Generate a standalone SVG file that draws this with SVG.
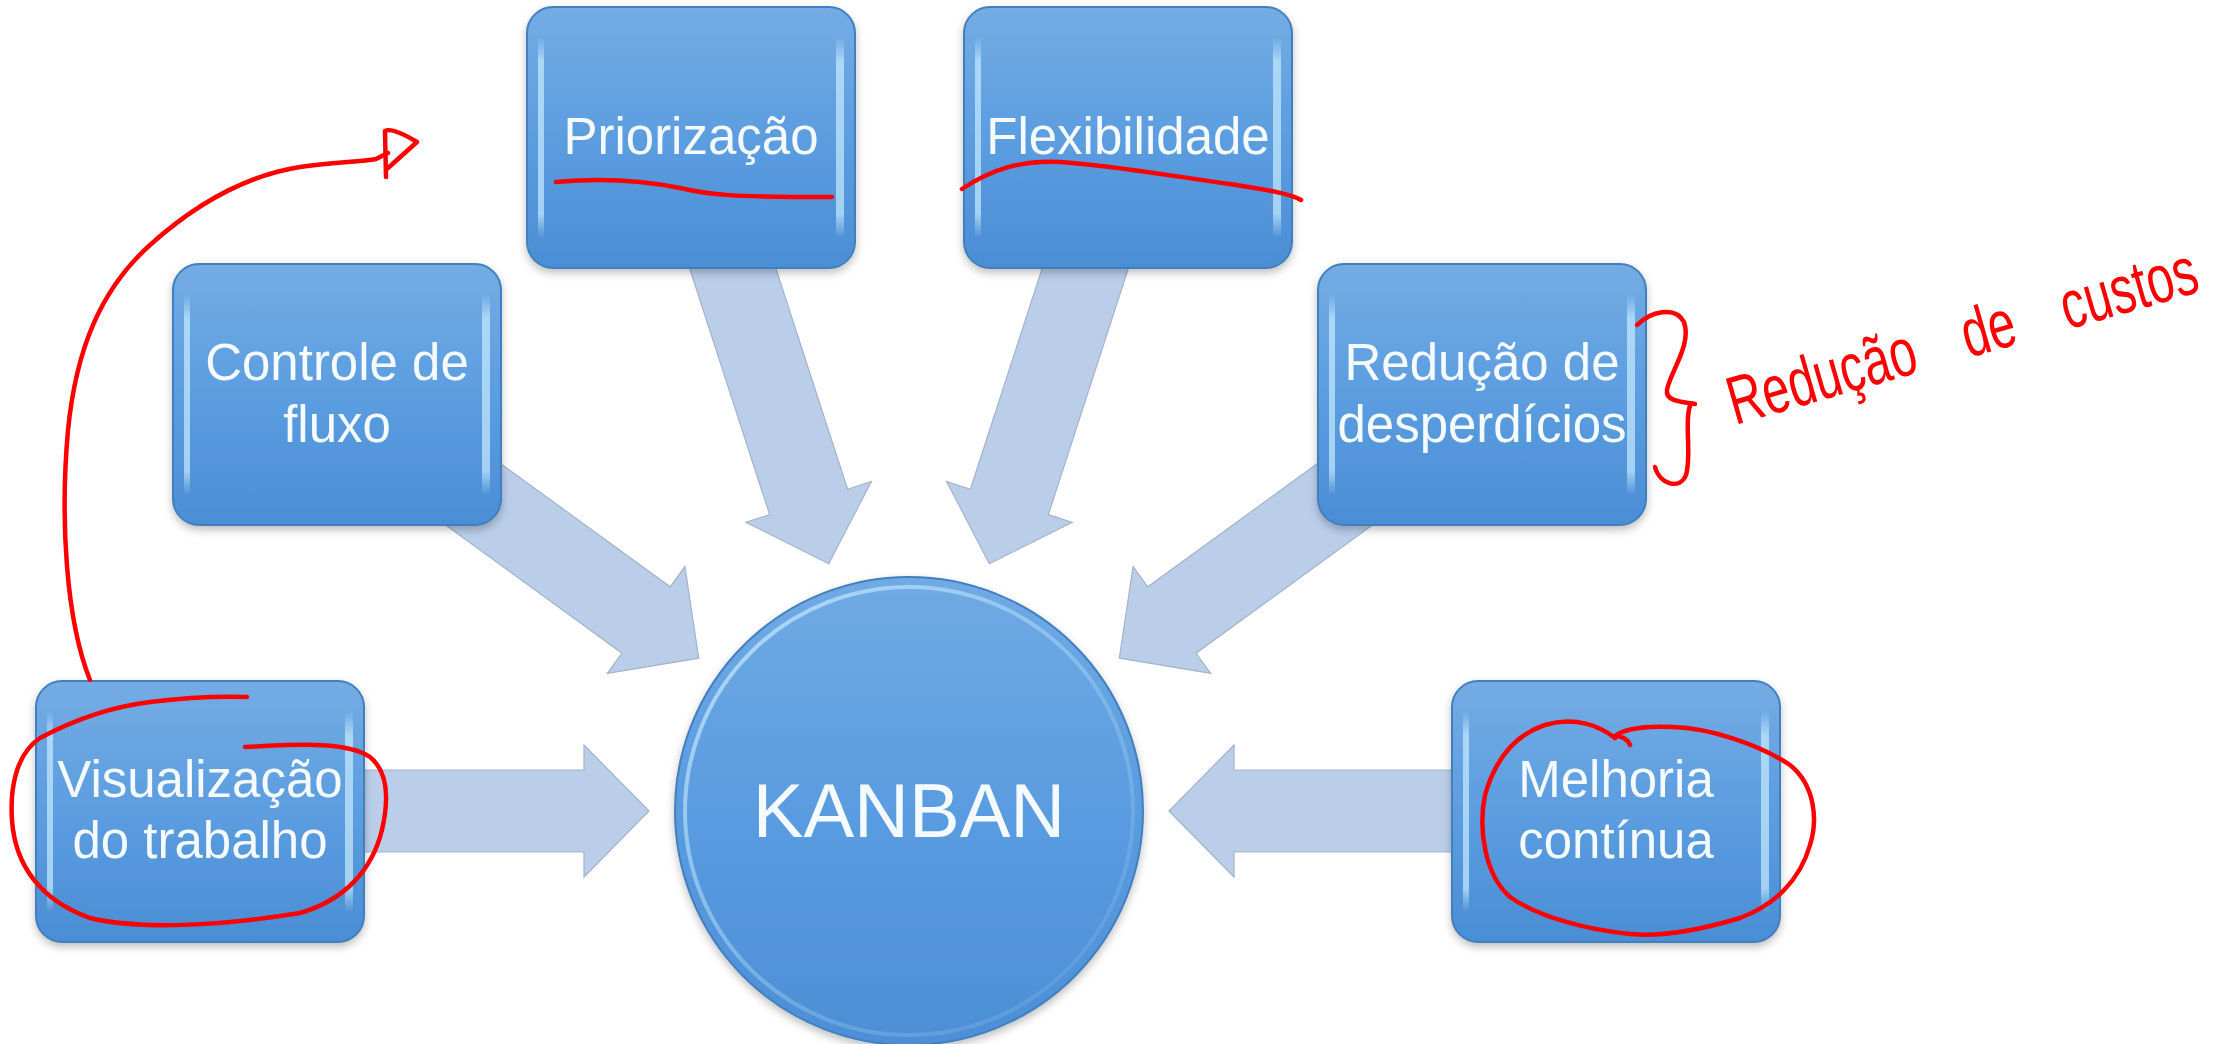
<svg xmlns="http://www.w3.org/2000/svg" xmlns:xlink="http://www.w3.org/1999/xlink" width="2225" height="1044" viewBox="0 0 2225 1044">
<style>
.lbl{font-family:"Liberation Sans",Arial,sans-serif;font-size:51px;fill:#F5FAFF;text-anchor:middle}
.big{font-family:"Liberation Sans",Arial,sans-serif;font-size:76px;fill:#F5FAFF;text-anchor:middle}
.arrow{fill:#BACEEA;stroke:#A3B3C8;stroke-width:1.2;stroke-linejoin:miter}
.ink{fill:none;stroke:#FF0000;stroke-width:4.5;stroke-linecap:round;stroke-linejoin:round}
.hand{font-family:"Liberation Sans",Arial,sans-serif;font-size:62px;fill:#FF0000;word-spacing:46px}
</style>
<defs>
<linearGradient id="boxFill" x1="0" y1="0" x2="0" y2="1">
<stop offset="0" stop-color="#74ACE4"/>
<stop offset="0.5" stop-color="#5C9DE0"/>
<stop offset="1" stop-color="#4A8ED5"/>
</linearGradient>
<linearGradient id="hl" x1="0" y1="0" x2="0" y2="1">
<stop offset="0" stop-color="#C8ECFF" stop-opacity="0"/>
<stop offset="0.12" stop-color="#C8ECFF" stop-opacity="0.7"/>
<stop offset="0.88" stop-color="#C8ECFF" stop-opacity="0.7"/>
<stop offset="1" stop-color="#C8ECFF" stop-opacity="0"/>
</linearGradient>
<linearGradient id="circFill" x1="0" y1="0" x2="0" y2="1">
<stop offset="0" stop-color="#70AAE4"/>
<stop offset="0.5" stop-color="#5A9CE0"/>
<stop offset="1" stop-color="#4C8FD6"/>
</linearGradient>
<linearGradient id="rim" x1="0" y1="0" x2="1" y2="1">
<stop offset="0" stop-color="#C8ECFF" stop-opacity="0.8"/>
<stop offset="0.6" stop-color="#C8ECFF" stop-opacity="0.25"/>
<stop offset="1" stop-color="#C8ECFF" stop-opacity="0.05"/>
</linearGradient>
<filter id="shadow" x="-10%" y="-10%" width="120%" height="130%">
<feDropShadow dx="0" dy="4" stdDeviation="4" flood-color="#000000" flood-opacity="0.25"/>
</filter>
<g id="box">
<rect width="328" height="261" rx="26" fill="url(#boxFill)" stroke="#437FBF" stroke-width="2"/>
<rect x="11" y="30" width="6" height="201" rx="3" fill="url(#hl)"/>
<rect x="309" y="30" width="8" height="201" rx="4" fill="url(#hl)"/>
</g>
<polygon id="arr" points="0,0 -65,-66 -65,-41 -340,-41 -340,41 -65,41 -65,66"/>
</defs>
<rect width="2225" height="1044" fill="#FFFFFF"/>

<g id="connectors">
<use xlink:href="#arr" href="#arr" class="arrow" transform="translate(649,811) rotate(0)"/>
<use xlink:href="#arr" href="#arr" class="arrow" transform="translate(698.7,658.2) rotate(36)"/>
<use xlink:href="#arr" href="#arr" class="arrow" transform="translate(828.7,563.7) rotate(72)"/>
<use xlink:href="#arr" href="#arr" class="arrow" transform="translate(989.3,563.7) rotate(108)"/>
<use xlink:href="#arr" href="#arr" class="arrow" transform="translate(1119.3,658.2) rotate(144)"/>
<use xlink:href="#arr" href="#arr" class="arrow" transform="translate(1169,811) rotate(180)"/>
</g>

<g id="node-kanban">
<circle cx="909" cy="811" r="234" fill="url(#circFill)" stroke="#437FBF" stroke-width="2" filter="url(#shadow)"/>
<circle cx="909" cy="811" r="224" fill="none" stroke="url(#rim)" stroke-width="4"/>
<text class="big" x="909" y="837">KANBAN</text>
</g>

<g id="node-visualizacao">
<use xlink:href="#box" href="#box" x="36" y="681" filter="url(#shadow)"/>
<text class="lbl" x="200" y="797">Visualização</text>
<text class="lbl" x="200" y="858">do trabalho</text>
</g>

<g id="node-controle">
<use xlink:href="#box" href="#box" x="173" y="264" filter="url(#shadow)"/>
<text class="lbl" x="337" y="380">Controle de</text>
<text class="lbl" x="337" y="442">fluxo</text>
</g>

<g id="node-priorizacao">
<use xlink:href="#box" href="#box" x="527" y="7" filter="url(#shadow)"/>
<text class="lbl" x="691" y="154">Priorização</text>
</g>

<g id="node-flexibilidade">
<use xlink:href="#box" href="#box" x="964" y="7" filter="url(#shadow)"/>
<text class="lbl" x="1128" y="154">Flexibilidade</text>
</g>

<g id="node-reducao">
<use xlink:href="#box" href="#box" x="1318" y="264" filter="url(#shadow)"/>
<text class="lbl" x="1482" y="380">Redução de</text>
<text class="lbl" x="1482" y="442">desperdícios</text>
</g>

<g id="node-melhoria">
<use xlink:href="#box" href="#box" x="1452" y="681" filter="url(#shadow)"/>
<text class="lbl" x="1616" y="797">Melhoria</text>
<text class="lbl" x="1616" y="858">contínua</text>
</g>

<g id="annotations">
<path class="ink" d="M90,680 C66,620 60,520 68,430 C76,350 100,290 150,245 C200,200 250,175 300,167 C330,162 360,162 376,159 L388,153"/>
<path class="ink" d="M386,177 L385,131 Q392,127 417,142 L388,168"/>
<path class="ink" d="M556,182 C600,178 640,180 680,188 C710,195 730,197 832,197"/>
<path class="ink" d="M962,189 C990,170 1020,160 1060,162 C1110,165 1170,176 1230,184 C1260,189 1290,193 1301,200"/>
<path class="ink" d="M1637,325 C1650,312 1675,305 1684,322 C1692,345 1670,372 1667,390 C1665,402 1685,402 1695,404 M1690,406 C1684,420 1692,455 1686,475 C1680,490 1660,485 1655,467"/>
<path class="ink" d="M247,697 C220,696 190,697 150,702 C110,707 70,722 40,738 C15,755 10,790 12,820 C15,865 40,900 90,918 C140,930 220,926 300,913 C345,900 372,870 382,830 C390,795 386,770 370,757 C345,740 290,745 245,747"/>
<path class="ink" d="M1630,745 Q1626,736 1615,736 C1625,728 1650,726 1673,727 C1710,728 1760,745 1790,765 C1815,785 1818,820 1810,845 C1800,880 1775,905 1740,918 C1700,930 1660,937 1630,934 C1590,930 1540,918 1510,897 C1485,875 1478,830 1485,795 C1495,760 1515,735 1545,725 C1575,716 1600,726 1615,738"/>
<text class="hand" transform="translate(1735,425) rotate(-16) scale(0.78,1.1)">Redução de custos</text>
</g>
</svg>
